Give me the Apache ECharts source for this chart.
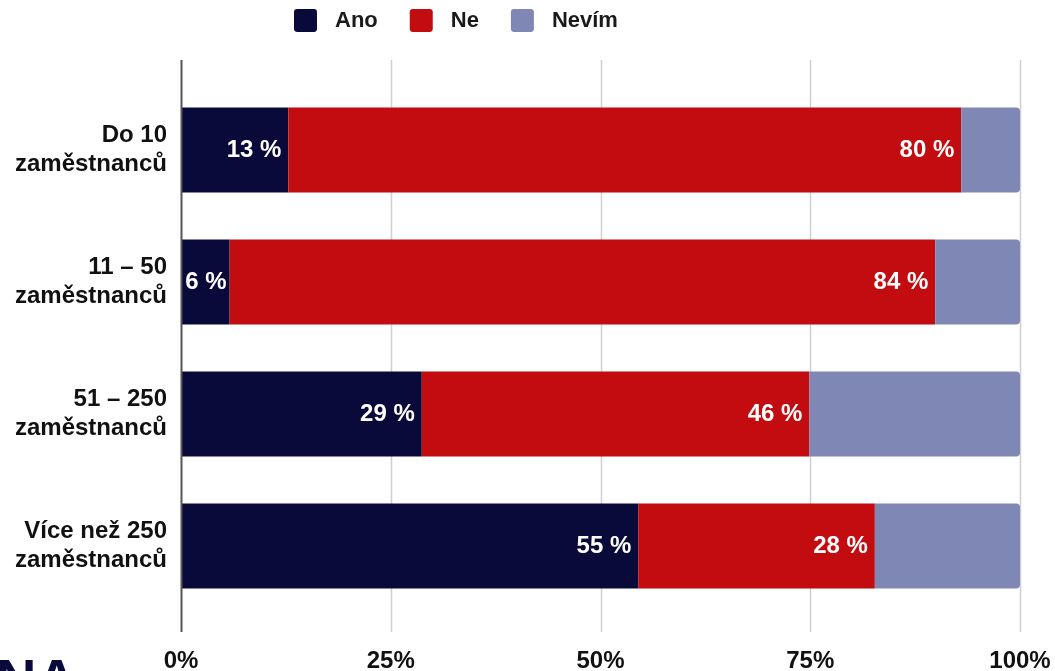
<!DOCTYPE html>
<html><head><meta charset="utf-8">
<script src="https://cdn.jsdelivr.net/npm/echarts@6/dist/echarts.min.js"></script>
<style>html,body{margin:0;padding:0;background:#fff}#c{width:1055px;height:671px}</style>
</head><body><div id="c"></div>
<script>
const categories = ['Do 10\nzaměstnanců', '11 – 50\nzaměstnanců', '51 – 250\nzaměstnanců', 'Více než 250\nzaměstnanců'];
const ano = [12.8, 5.8, 28.7, 54.5];
const ne = [80.2, 84.1, 46.2, 28.2];
const nevim = [7.0, 10.1, 25.1, 17.3];
const anoLabels = ['13 %', '6 %', '29 %', '55 %'];
const neLabels = ['80 %', '84 %', '46 %', '28 %'];
const xTicks = [0, 25, 50, 75, 100];

const FONT = '"Liberation Sans", Arial, sans-serif';
const chart = echarts.init(document.getElementById('c'), null, {renderer: 'canvas'});
const lbl = (arr) => ({show: true, position: 'insideRight', color: '#fff', fontFamily: FONT, fontWeight: 'bold', fontSize: 24, distance: 7, formatter: p => arr[p.dataIndex]});
const ICON = 'path://M3,0 H19 A3,3 0 0 1 22,3 V19 A3,3 0 0 1 19,22 H3 A3,3 0 0 1 0,19 V3 A3,3 0 0 1 3,0 Z';
const anoData = ano.map((v, i) => (v < 8 ? {value: v, label: {distance: 3}} : v));
chart.setOption({
  animation: false,
  textStyle: {fontFamily: FONT},
  legend: {
    top: 4, left: 289, itemWidth: 23, itemHeight: 24, itemGap: 32,
    icon: ICON,
    textStyle: {fontFamily: FONT, fontWeight: 'bold', fontSize: 22, color: '#1a1a1a', padding: [0, 0, 0, 13]},
    data: ['Ano', 'Ne', 'Nevím']
  },
  grid: {left: 181, right: 35, top: 84, bottom: 59, containLabel: false, outerBoundsMode: 'none'},
  xAxis: {
    type: 'value', min: 0, max: 100, interval: 25,
    axisLabel: {margin: 37, color: '#111', fontFamily: FONT, fontWeight: 'bold', fontSize: 24, formatter: v => xTicks.includes(v) ? v + '%' : ''},
    splitLine: {show: false}, axisLine: {show: false}, axisTick: {show: false}
  },
  yAxis: {
    type: 'category', inverse: true, data: categories,
    axisLine: {show: false}, axisTick: {show: false},
    axisLabel: {margin: 14, color: '#111', fontFamily: FONT, fontWeight: 'bold', fontSize: 24, lineHeight: 29, align: 'right'}
  },
  series: [
    {name: 'Ano', type: 'bar', stack: 't', barWidth: 85, data: anoData, itemStyle: {color: '#0a0a3a'}, label: lbl(anoLabels)},
    {name: 'Ne', type: 'bar', stack: 't', data: ne, itemStyle: {color: '#c20c10'}, label: lbl(neLabels)},
    {name: 'Nevím', type: 'bar', stack: 't', data: nevim, itemStyle: {color: '#7f87b4', borderRadius: [0, 4, 4, 0]}}
  ]
});

function drawLines() {
  const els = [];
  xTicks.forEach(v => {
    const x = Math.round(chart.convertToPixel({xAxisIndex: 0}, v)) + 0.5;
    els.push({type: 'line', z: v === 0 ? 10 : -1, silent: true,
      shape: {x1: x, y1: 60, x2: x, y2: 632},
      style: {stroke: v === 0 ? '#555' : '#d0d0d0', lineWidth: v === 0 ? 2 : 1.5}});
  });
  els.push({type: 'text', left: -4, top: 655, z: 20, style: {text: 'NA', fill: '#0a0a3a', font: 'bold 56px ' + FONT}});
  chart.setOption({graphic: els});
}
drawLines();
</script></body></html>
